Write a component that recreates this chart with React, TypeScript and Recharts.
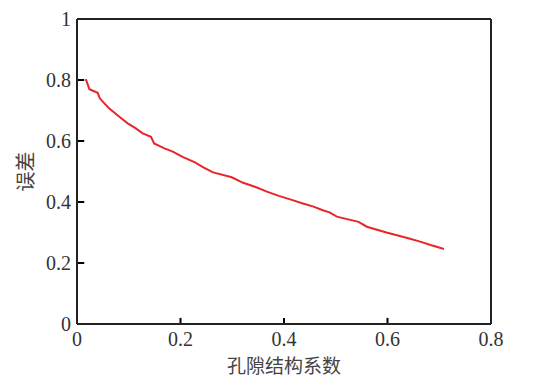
import React from "react";
import { LineChart, Line, XAxis, YAxis, ReferenceLine, Label } from "recharts";

if (typeof document !== "undefined") {
  document.body.style.margin = "0";
}

const xValues = [
  0.017, 0.024, 0.032, 0.04, 0.044, 0.052, 0.062, 0.08, 0.098, 0.113, 0.127, 0.143, 0.149, 0.169,
  0.185, 0.205, 0.228, 0.245, 0.263, 0.299, 0.321, 0.345, 0.367, 0.39, 0.415, 0.435, 0.457, 0.475,
  0.488, 0.502, 0.544, 0.56, 0.598, 0.62, 0.64, 0.663, 0.685, 0.709,
];
const errorValues = [
  0.803, 0.77, 0.764, 0.758, 0.74, 0.725, 0.707, 0.682, 0.658, 0.642, 0.625, 0.614, 0.592, 0.576,
  0.565, 0.547, 0.53, 0.513, 0.497, 0.481, 0.463, 0.449, 0.434, 0.42, 0.407, 0.396, 0.385, 0.373,
  0.366, 0.352, 0.335, 0.319, 0.3, 0.29, 0.281, 0.27, 0.258, 0.246,
];
const xTicks = [0, 0.2, 0.4, 0.6, 0.8];
const yTicks = [0, 0.2, 0.4, 0.6, 0.8, 1];
const xLabel = "孔隙结构系数";
const yLabel = "误差";

const data = xValues.map((x, i) => ({ x, y: errorValues[i] }));

const serif = "'Liberation Serif', 'DejaVu Serif', serif";
const frame = "#222";
const cjk = "'Noto Sans CJK SC', sans-serif";

export default function App() {
  return (
    <div style={{ width: 542, height: 379, background: "#fff", fontFamily: serif }}>
      <LineChart
        width={542}
        height={379}
        data={data}
        margin={{ top: 19, right: 51, bottom: 0, left: 0 }}
      >
        <XAxis
          dataKey="x"
          type="number"
          domain={[0, 0.8]}
          ticks={xTicks}
          tickLine={false}
          tickSize={0}
          tickMargin={8}
          axisLine={{ stroke: frame, strokeWidth: 2 }}
          tick={{ fill: "#333", fontSize: 20, fontFamily: serif }}
          height={55}
          interval={0}
        >
          <Label
            value={xLabel}
            position="insideBottom"
            offset={6}
            style={{ fontFamily: cjk, fontSize: 19, fill: "#444" }}
          />
        </XAxis>
        <YAxis
          type="number"
          domain={[0, 1]}
          ticks={yTicks}
          tickLine={false}
          tickSize={0}
          tickMargin={6}
          axisLine={{ stroke: frame, strokeWidth: 2 }}
          tick={{ fill: "#333", fontSize: 20, fontFamily: serif }}
          width={77}
          interval={0}
        >
          <Label
            value={yLabel}
            angle={-90}
            position="insideLeft"
            offset={26}
            style={{ fontFamily: cjk, fontSize: 20, fill: "#444", textAnchor: "middle" }}
          />
        </YAxis>
        <ReferenceLine y={1} stroke={frame} strokeWidth={2} />
        <ReferenceLine x={0.8} stroke={frame} strokeWidth={2} />
        {xTicks.slice(1, -1).map((t) => (
          <ReferenceLine
            key={"xt" + t}
            segment={[
              { x: t, y: 0 },
              { x: t, y: 0.02 },
            ]}
            stroke="#000"
            strokeWidth={2}
            ifOverflow="visible"
          />
        ))}
        {yTicks.slice(1, -1).map((t) => (
          <ReferenceLine
            key={"yt" + t}
            segment={[
              { x: 0, y: t },
              { x: 0.014, y: t },
            ]}
            stroke="#000"
            strokeWidth={2}
            ifOverflow="visible"
          />
        ))}
        <Line
          type="linear"
          dataKey="y"
          stroke="#e8262a"
          strokeWidth={2}
          dot={false}
          isAnimationActive={false}
        />
      </LineChart>
    </div>
  );
}
